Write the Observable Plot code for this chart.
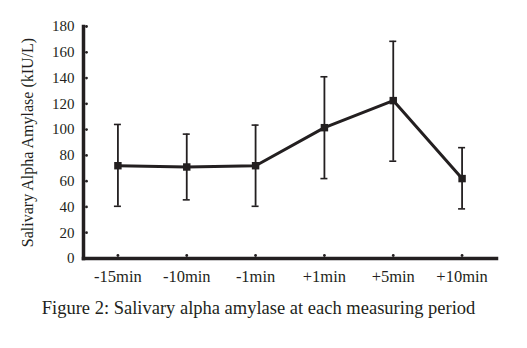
<!DOCTYPE html>
<html><head><meta charset="utf-8">
<script src="https://cdn.jsdelivr.net/npm/d3@7"></script>
<script src="https://cdn.jsdelivr.net/npm/@observablehq/plot@0.6"></script>
<style>
body{margin:0;background:#fff;font-family:"Liberation Serif","Times New Roman",serif;}
#cap{font-size:18.5px;color:#231f20;text-align:center;margin-top:9px;width:527px;padding-right:10px;box-sizing:border-box;line-height:22px;}
</style></head><body>
<div id="chart"></div>
<div id="cap">Figure 2: Salivary alpha amylase at each measuring period</div>
<script>
const periods = ["-15min","-10min","-1min","+1min","+5min","+10min"];
const means = [72, 71, 72, 101.5, 122.5, 62];
const upper = [104, 96.5, 103.5, 141, 168.5, 86];
const lower = [40.5, 45.5, 40.5, 62, 75.5, 38.5];
const yTicks = [0,20,40,60,80,100,120,140,160,180];
const yLabel = "Salivary Alpha Amylase (kIU/L)";

const data = periods.map((p,i)=>({p, m:means[i], hi:upper[i], lo:lower[i]}));
const ink = "#231f20";
const W = 527, H = 288;
const bandW = (W-83-31)/periods.length;
const capInset = (bandW-7)/2;

const chart = Plot.plot({
  width: W, height: H,
  marginLeft: 83, marginRight: 31, marginTop: 26, marginBottom: 30,
  style: {fontFamily: '"Liberation Serif","Times New Roman",serif', fontSize: "15px", color: ink, background: "#fff"},
  x: {type: "band", domain: periods, padding: 0, round: false},
  y: {domain: [0,180]},
  marks: [
    Plot.axisY({ticks: yTicks, tickSize: 0, tickPadding: 9, fontSize: 15, label: null}),
    Plot.axisX({tickSize: 0, tickPadding: 12, fontSize: 16.5, label: null}),
    Plot.text([yLabel], {text: d=>d, frameAnchor: "left", y: [90], dx: -56, rotate: -90, textAnchor: "middle", fontSize: 16, fill: ink}),
    Plot.dot(yTicks, {y: d=>d, frameAnchor: "left", dx: 3, r: 1.4, fill: ink}),
    Plot.dot(periods, {x: d=>d, frameAnchor: "bottom", dy: -3, r: 1.4, fill: ink}),
    Plot.ruleX(data, {x: "p", y1: "lo", y2: "hi", stroke: ink, strokeWidth: 1.8}),
    Plot.tickY(data, {x: "p", y: "hi", stroke: ink, strokeWidth: 1.6, insetLeft: capInset, insetRight: capInset}),
    Plot.tickY(data, {x: "p", y: "lo", stroke: ink, strokeWidth: 1.6, insetLeft: capInset, insetRight: capInset}),
    Plot.line(data, {x: "p", y: "m", stroke: ink, strokeWidth: 3}),
    Plot.dot(data, {x: "p", y: "m", symbol: "square", r: 4.2, fill: ink}),
    Plot.frame({anchor: "left", stroke: ink, strokeWidth: 3.5}),
    Plot.frame({anchor: "bottom", stroke: ink, strokeWidth: 3.5})
  ]
});
document.getElementById("chart").appendChild(chart);
</script>
</body></html>
